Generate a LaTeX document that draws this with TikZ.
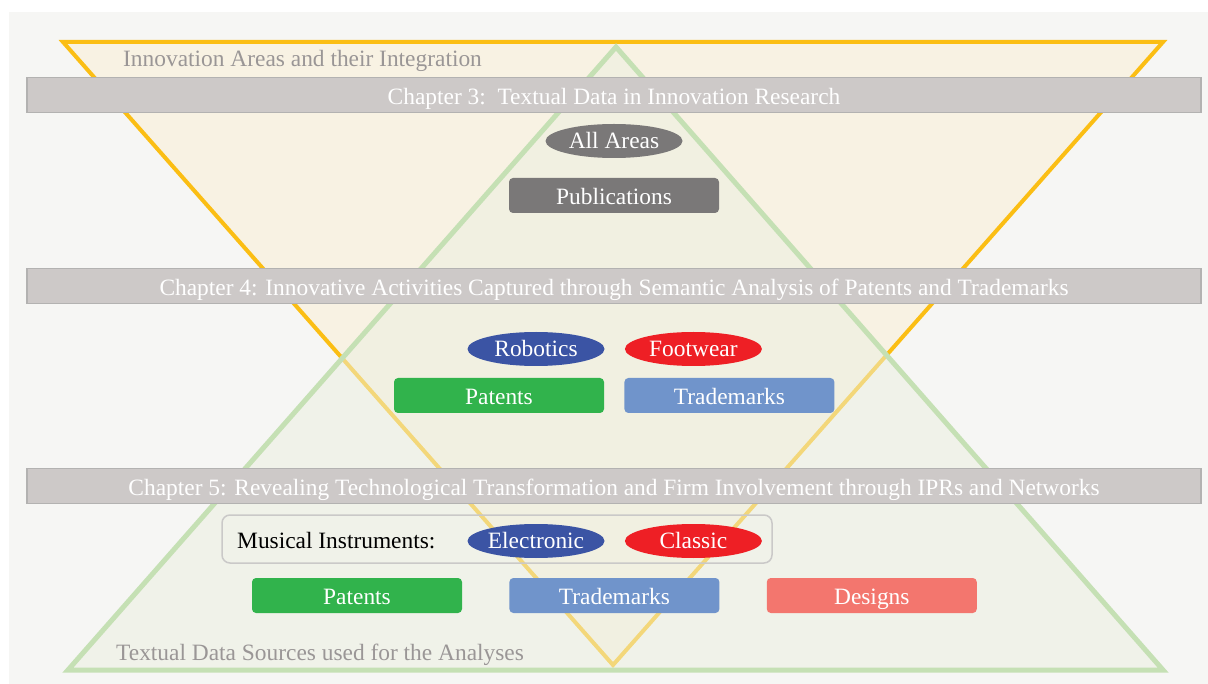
\documentclass[tikz,border=0pt]{standalone}
\usepackage{fontspec}
\setmainfont{Liberation Serif}
\usetikzlibrary{positioning,shapes.geometric}

\definecolor{pagebg}{HTML}{F6F6F4}
\definecolor{yellowline}{HTML}{FBBE14}
\definecolor{yellowfill}{HTML}{F8F2E3}
\definecolor{greenline}{HTML}{C5E0B4}
\definecolor{greenfill}{HTML}{ECF0E0}
\definecolor{barfill}{HTML}{CDC9C8}
\definecolor{barline}{HTML}{B3B2B1}
\definecolor{labelgray}{HTML}{9A9696}
\definecolor{darkgray}{HTML}{7A7878}
\definecolor{robblue}{HTML}{3B54A4}
\definecolor{shoered}{HTML}{EE1F25}
\definecolor{patgreen}{HTML}{31B34C}
\definecolor{tmblue}{HTML}{7094CB}
\definecolor{dessalmon}{HTML}{F3766E}

\begin{document}
\begin{tikzpicture}[
  x=1pt, y=-1pt,
  every node/.style={font=\fontsize{23.4}{27}\selectfont, text height=15.5pt, text depth=0pt},
  chap/.style={draw=barline, line width=1.5pt, fill=barfill, text=white, minimum width=1174pt, minimum height=35pt, inner sep=0pt, text height=19.5pt},
  area/.style={ellipse, text=white, minimum width=137pt, minimum height=34pt, inner sep=0pt},
  src/.style={rounded corners=4pt, text=white, minimum width=210pt, minimum height=35pt, inner sep=0pt, text height=18.5pt},
  note/.style={text=labelgray, anchor=west, inner sep=0pt}
]
\useasboundingbox (0,0) rectangle (1208,684);
\fill[pagebg] (9,12) rectangle (1208,684);

% the two triangles
\draw[yellowline, line width=4pt, fill=yellowfill] (63,42) -- (1163,42) -- (613,665) -- cycle;
\fill[greenfill, fill opacity=0.5] (616,47) -- (1163,670) -- (68,670) -- cycle;
\draw[greenline, line width=5pt] (616,47) -- (1163,670) -- (68,670) -- cycle;

\node[note] (top) at (123,59) {Innovation Areas and their Integration};
\node[note] (bottom) at (116,653) {Textual Data Sources used for the Analyses};

% chapter 3
\node[chap] (ch3) at (614,95) {Chapter 3:\ \ Textual Data in Innovation Research};
\node[area, fill=darkgray] (all) at (614,141) {All Areas};
\node[src, fill=darkgray] (pub) at (614,195.5) {Publications};

% chapter 4
\node[chap] (ch4) at (614,286) {Chapter 4: Innovative Activities Captured through Semantic Analysis of Patents and Trademarks};
\node[area, fill=robblue] (rob) at (536,349) {Robotics};
\node[area, fill=shoered, right=20pt of rob] (shoe) {Footwear};
\node[src, fill=patgreen] (pat4) at (499,395.5) {Patents};
\node[src, fill=tmblue, right=20pt of pat4] (tm4) {Trademarks};

% chapter 5
\node[chap] (ch5) at (614,486) {Chapter 5: Revealing Technological Transformation and Firm Involvement through IPRs and Networks};
\node[draw=barline!70, line width=1.5pt, rounded corners=8pt, minimum width=550pt, minimum height=48pt] (instr) at (497,539) {};
\node[anchor=west, inner sep=0pt] (mus) at (237,541) {Musical Instruments:};
\node[area, fill=robblue] (elec) at (536,541) {Electronic};
\node[area, fill=shoered, right=20pt of elec] (classic) {Classic};
\node[src, fill=patgreen] (pat5) at (357,595.5) {Patents};
\node[src, fill=tmblue, right=47pt of pat5] (tm5) {Trademarks};
\node[src, fill=dessalmon, right=47pt of tm5] (des) {Designs};
\end{tikzpicture}
\end{document}
